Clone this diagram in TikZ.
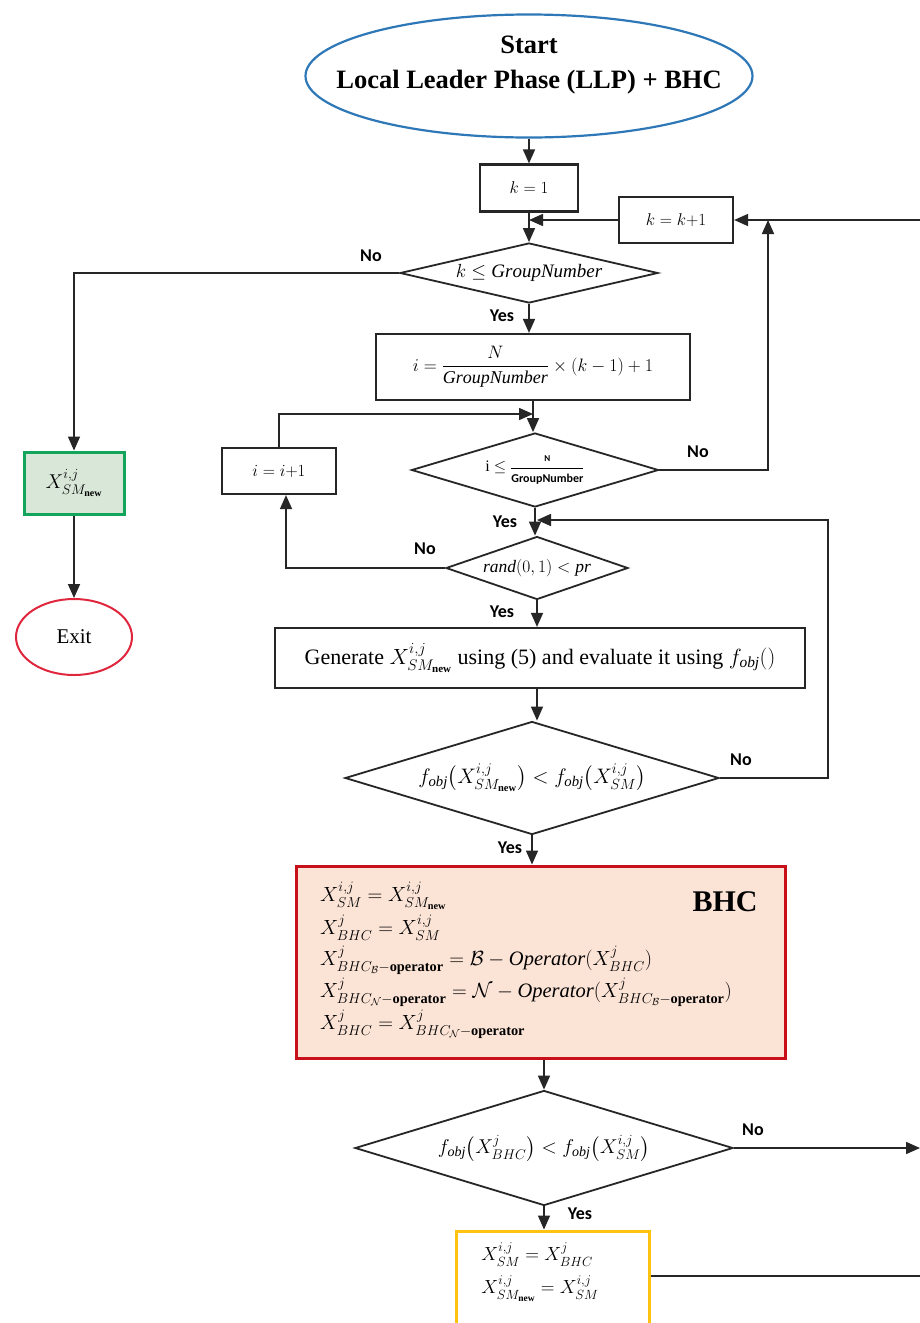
\documentclass[tikz,border=0pt]{standalone}
\usepackage{fix-cm}
\usepackage{amsmath}
\usepackage{fontspec}
\setmainfont{Liberation Serif}
\newfontfamily\lblfont{Carlito}
\usetikzlibrary{shapes.geometric,arrows.meta}

\definecolor{boxgray}{HTML}{262626}
\definecolor{linegray}{HTML}{262626}
\definecolor{startblue}{HTML}{2E78B8}
\definecolor{exitred}{HTML}{E0263C}
\definecolor{okgreen}{HTML}{13A55C}
\definecolor{okfill}{HTML}{D9E7D9}
\definecolor{bhcred}{HTML}{C8101A}
\definecolor{bhcfill}{HTML}{FBE3D6}
\definecolor{swapgold}{HTML}{FFC20E}

\begin{document}
\begin{tikzpicture}[x=1pt,y=-1pt,
  box/.style={rectangle, draw=boxgray, line width=2.2pt, fill=white, inner sep=0pt, align=center},
  dia/.style={diamond, draw=boxgray, line width=1.8pt, fill=white, inner sep=0pt, align=center},
  conn/.style={draw=linegray, line width=1.6pt},
  arr/.style={conn, -{Triangle[length=14pt,width=12pt]}},
  lbl/.style={font=\lblfont\bfseries\fontsize{18}{20}\selectfont, inner sep=0pt},
  txt/.style={inner sep=0pt, align=left},
  eqline/.style={inner sep=0pt, anchor=base west, text height=15pt, text depth=7pt,
                 font=\fontsize{20.5}{24}\selectfont}
]
\useasboundingbox (0,0) rectangle (920,1323);
\fill[white] (0,0) rectangle (920,1323);
\begin{scope}
\clip (0,0) rectangle (920,1323);

% ---------- start / exit terminals ----------
\node[ellipse, draw=startblue, line width=2.2pt, fill=white,
      minimum width=447pt, minimum height=123pt] (start) at (529,76) {};
\node[txt, align=center, font=\bfseries\fontsize{26.5}{35}\selectfont] (starttxt) at (529,65)
  {Start\\Local Leader Phase (LLP) + BHC};

\node[draw=okgreen, line width=3pt, fill=okfill, minimum width=100pt, minimum height=62pt,
      inner sep=0pt, font=\fontsize{20}{24}\selectfont] (best) at (74,483)
  {$X^{i,j}_{SM_{\mathbf{new}}}$};
\node[ellipse, draw=exitred, line width=2pt, fill=white, minimum width=116pt, minimum height=76pt,
      inner sep=0pt, font=\fontsize{21}{24}\selectfont] (exit) at (74,637) {Exit};

% ---------- group loop ----------
\node[box, minimum width=98pt, minimum height=47pt, font=\fontsize{17}{20}\selectfont] (k1) at (529,188)
  {$k = 1$};
\node[box, minimum width=114pt, minimum height=46pt, font=\fontsize{17}{20}\selectfont] (kinc) at (676,220)
  {$k = k{+}1$};
\node[dia, minimum width=258pt, minimum height=60pt, aspect=4.3, font=\fontsize{19}{22}\selectfont] (d1) at (529,273)
  {$k \le \mathit{GroupNumber}$};
\node[box, minimum width=314pt, minimum height=66pt, font=\fontsize{18}{22}\selectfont] (iinit) at (533,367)
  {$i = \dfrac{N}{\mathit{GroupNumber}} \times (k-1) + 1$};

% ---------- member loop ----------
\node[box, minimum width=114pt, minimum height=46pt, font=\fontsize{17}{20}\selectfont] (iinc) at (279,471)
  {$i = i{+}1$};
\node[dia, minimum width=247pt, minimum height=74pt, aspect=3.3, font=\fontsize{16}{18}\selectfont] (d2) at (535,470)
  {i $\le$ $\dfrac{\mbox{\lblfont\bfseries\fontsize{9}{10}\selectfont N}}{\mbox{\lblfont\bfseries\fontsize{12}{13}\selectfont GroupNumber}}$};
\node[dia, minimum width=182pt, minimum height=63pt, aspect=2.9, font=\fontsize{17.5}{20}\selectfont] (d3) at (537,568)
  {$\mathit{rand}(0,1) < \mathit{pr}$};
\node[box, minimum width=530pt, minimum height=60pt, font=\fontsize{22}{26}\selectfont] (gen) at (540,658)
  {Generate $X^{i,j}_{SM_{\mathbf{new}}}$ using (5) and evaluate it using $f_{\mathit{obj}}()$};
\node[dia, minimum width=374pt, minimum height=113pt, aspect=3.3, font=\fontsize{21}{24}\selectfont] (d4) at (532,778)
  {$f_{\mathit{obj}}\bigl(X^{i,j}_{SM_{\mathbf{new}}}\bigr) < f_{\mathit{obj}}\bigl(X^{i,j}_{SM}\bigr)$};

% ---------- BHC block ----------
\node[draw=bhcred, line width=3pt, fill=bhcfill, minimum width=489pt, minimum height=192pt,
      inner sep=0pt] (bhc) at (541,962) {};
\node[eqline] (eqA) at (320,901)  {$X^{i,j}_{SM} = X^{i,j}_{SM_{\mathbf{new}}}$};
\node[eqline] (eqB) at (320,934)  {$X^{j}_{BHC} = X^{i,j}_{SM}$};
\node[eqline] (eqC) at (320,965)  {$X^{j}_{BHC_{\mathcal{B}}{-}\mathbf{operator}} = \mathcal{B} - \mathit{Operator}(X^{j}_{BHC})$};
\node[eqline] (eqD) at (320,997)  {$X^{j}_{BHC_{\mathcal{N}}{-}\mathbf{operator}} = \mathcal{N} - \mathit{Operator}(X^{j}_{BHC_{\mathcal{B}}{-}\mathbf{operator}})$};
\node[eqline] (eqE) at (320,1029) {$X^{j}_{BHC} = X^{j}_{BHC_{\mathcal{N}}{-}\mathbf{operator}}$};
\node[txt, font=\bfseries\fontsize{30}{34}\selectfont] (bhctitle) at (725,902) {BHC};

\node[dia, minimum width=378pt, minimum height=115pt, aspect=3.3, font=\fontsize{20}{24}\selectfont] (d5) at (544,1148)
  {$f_{\mathit{obj}}\bigl(X^{j}_{BHC}\bigr) < f_{\mathit{obj}}\bigl(X^{i,j}_{SM}\bigr)$};
\node[draw=swapgold, line width=3pt, fill=white, minimum width=193pt, minimum height=120pt,
      inner sep=0pt] (swap) at (552.5,1291) {};
\node[txt, font=\fontsize{19}{33}\selectfont] (swaptxt) at (540,1272)
  {$X^{i,j}_{SM} = X^{j}_{BHC}$\\
   $X^{i,j}_{SM_{\mathbf{new}}} = X^{i,j}_{SM}$};

% ---------- branch labels ----------
\node[lbl] (noA)  at (371,256)  {No};
\node[lbl] (yesA) at (502,316)  {Yes};
\node[lbl] (noB)  at (698,452)  {No};
\node[lbl] (yesB) at (505,522)  {Yes};
\node[lbl] (noC)  at (425,549)  {No};
\node[lbl] (yesC) at (502,612)  {Yes};
\node[lbl] (noD)  at (741,760)  {No};
\node[lbl] (yesD) at (510,848)  {Yes};
\node[lbl] (noE)  at (753,1130) {No};
\node[lbl] (yesE) at (580,1214) {Yes};

% ---------- junction points ----------
\coordinate (jk)   at (529,220);
\coordinate (ji)   at (533,414);
\coordinate (jr)   at (537,520);
\coordinate (up1)  at (768,220);
\coordinate (up2)  at (828,520);
\coordinate (edgeA) at (920,220);
\coordinate (edgeB) at (920,1148);
\coordinate (edgeC) at (920,1276);

% ---------- connectors ----------
\draw[arr] (start.south) -- (k1.north);
\draw[arr] (k1.south) -- (k1.south |- d1.north);
\draw[arr] (kinc.west) -- (jk);
\draw[arr] (d1.west) -| (best.north);
\draw[arr] (best.south) -- (exit.north);
\draw[arr] (d1.south) -- (d1.south |- iinit.north);
\draw[arr] (iinit.south) -- (iinit.south |- d2.north);
\draw[arr] (iinc.north) |- (ji);
\draw[arr] (d2.east) -| (up1);
\draw[arr] (edgeA) -- (kinc.east);
\draw[arr] (d2.south) -- (d2.south |- d3.north);
\draw[arr] (d3.west) -| ([xshift=7pt]iinc.south);
\draw[arr] (d3.south) -- (d3.south |- gen.north);
\draw[arr] (d3.south |- gen.south) -- (d3.south |- d4.north);
\draw[arr] (d4.east) -| (up2) -- (jr);
\draw[arr] (d4.south) -- (d4.south |- bhc.north);
\draw[arr] (d5.north |- bhc.south) -- (d5.north);
\draw[arr] (d5.east) -- (edgeB);
\draw[arr] (d5.south) -- (d5.south |- swap.north);
\draw[conn] (swap.east |- edgeC) -- (edgeC);

\end{scope}
\end{tikzpicture}
\end{document}
